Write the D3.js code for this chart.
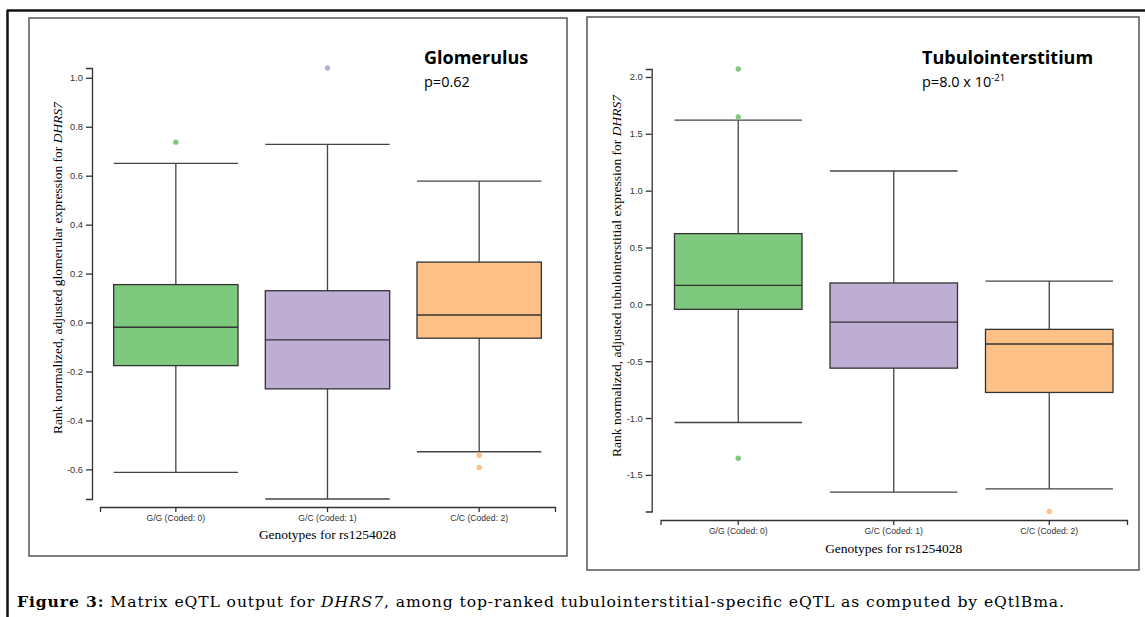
<!DOCTYPE html>
<html>
<head>
<meta charset="utf-8">
<script src="https://cdn.jsdelivr.net/npm/d3@7"></script>
<style>
  body { margin: 0; background: #fff; }
  svg { display: block; }
  .tick text { fill: #333; }
</style>
</head>
<body>
<svg id="fig" width="1145" height="617"></svg>
<script>
// genotype categories shared by both panels
var genotypes = ["G/G (Coded: 0)", "G/C (Coded: 1)", "C/C (Coded: 2)"];
var boxColors = ["#7fc97f", "#beaed4", "#fdc086"];

// glomerulus box stats (per genotype)
var glomLow     = [-0.612, -0.721, -0.528];
var glomQ1      = [-0.176, -0.271, -0.064];
var glomMedian  = [-0.019, -0.071,  0.031];
var glomQ3      = [ 0.155,  0.130,  0.247];
var glomHigh    = [ 0.650,  0.728,  0.578];
var glomOutliers = [[0.737], [1.040], [-0.542, -0.592]];
var glomTicks   = [-0.6, -0.4, -0.2, 0.0, 0.2, 0.4, 0.6, 0.8, 1.0];

// tubulointerstitium box stats
var tubLow      = [-1.039, -1.652, -1.623];
var tubQ1       = [-0.044, -0.561, -0.775];
var tubMedian   = [ 0.167, -0.156, -0.349];
var tubQ3       = [ 0.622,  0.188, -0.220];
var tubHigh     = [ 1.620,  1.173,  0.205];
var tubOutliers = [[2.070, 1.649, -1.353], [], [-1.822]];
var tubTicks    = [-1.5, -1.0, -0.5, 0.0, 0.5, 1.0, 1.5, 2.0];

var svg = d3.select("#fig");

// outer frame (only left and top edges show)
svg.append("line").attr("x1", 7.5).attr("y1", 10).attr("x2", 7.5).attr("y2", 617)
  .attr("stroke", "#111").attr("stroke-width", 2.5);
svg.append("line").attr("x1", 7).attr("y1", 10.5).attr("x2", 1145).attr("y2", 10.5)
  .attr("stroke", "#111").attr("stroke-width", 2.5);

function drawPanel(p) {
  svg.append("rect")
    .attr("x", p.box[0]).attr("y", p.box[1])
    .attr("width", p.box[2]).attr("height", p.box[3])
    .attr("fill", "none").attr("stroke", "#555").attr("stroke-width", 1.5);

  var stats = genotypes.map(function (g, i) {
    return { g: g, low: p.low[i], q1: p.q1[i], med: p.med[i], q3: p.q3[i],
             high: p.high[i], out: p.out[i], color: boxColors[i] };
  });

  var allVals = [];
  stats.forEach(function (s) { allVals.push(s.low, s.high); allVals = allVals.concat(s.out); });

  var x = d3.scaleBand().domain(genotypes).range(p.xRange).paddingInner(0.18).paddingOuter(0.09);
  var y = d3.scaleLinear().domain(d3.extent(allVals)).range(p.yRange);

  var xAxis = svg.append("g")
    .attr("transform", "translate(0," + p.xAxisY + ")")
    .call(d3.axisBottom(x).tickSize(5).tickSizeOuter(5).tickPadding(3));
  xAxis.selectAll("text").attr("font-family", "Liberation Sans, Arial, sans-serif").attr("font-size", 8.6);
  xAxis.selectAll("path, line").attr("stroke", "#333").attr("stroke-width", 1.3);

  var yAxis = svg.append("g")
    .attr("transform", "translate(" + p.yAxisX + ",0)")
    .call(d3.axisLeft(y).tickValues(p.ticks).tickSize(6).tickSizeOuter(6).tickPadding(3)
      .tickFormat(function (d) { return d.toFixed(1); }));
  yAxis.selectAll("text").attr("font-family", "Liberation Sans, Arial, sans-serif").attr("font-size", 9.3);
  yAxis.selectAll("path, line").attr("stroke", "#333").attr("stroke-width", 1.3);

  var boxes = svg.append("g").selectAll("g").data(stats).enter().append("g");

  // whiskers
  boxes.append("line")
    .attr("x1", function (d) { return x(d.g) + x.bandwidth() / 2; })
    .attr("x2", function (d) { return x(d.g) + x.bandwidth() / 2; })
    .attr("y1", function (d) { return y(d.high); })
    .attr("y2", function (d) { return y(d.low); })
    .attr("stroke", "#444").attr("stroke-width", 1.3);
  ["high", "low"].forEach(function (k) {
    boxes.append("line")
      .attr("x1", function (d) { return x(d.g); })
      .attr("x2", function (d) { return x(d.g) + x.bandwidth(); })
      .attr("y1", function (d) { return y(d[k]); })
      .attr("y2", function (d) { return y(d[k]); })
      .attr("stroke", "#444").attr("stroke-width", 1.3);
  });

  boxes.append("rect")
    .attr("x", function (d) { return x(d.g); })
    .attr("width", x.bandwidth())
    .attr("y", function (d) { return y(d.q3); })
    .attr("height", function (d) { return y(d.q1) - y(d.q3); })
    .attr("fill", function (d) { return d.color; })
    .attr("stroke", "#333").attr("stroke-width", 1.3);

  boxes.append("line")
    .attr("x1", function (d) { return x(d.g); })
    .attr("x2", function (d) { return x(d.g) + x.bandwidth(); })
    .attr("y1", function (d) { return y(d.med); })
    .attr("y2", function (d) { return y(d.med); })
    .attr("stroke", "#333").attr("stroke-width", 1.4);

  boxes.each(function (d) {
    d3.select(this).selectAll("circle").data(d.out).enter().append("circle")
      .attr("cx", x(d.g) + x.bandwidth() / 2)
      .attr("cy", function (v) { return y(v); })
      .attr("r", 2.7)
      .attr("fill", d.color);
  });

  // axis titles
  svg.append("text")
    .attr("x", x(genotypes[1]) + x.bandwidth() / 2).attr("y", p.xTitleY)
    .attr("text-anchor", "middle")
    .attr("font-family", "Liberation Serif, Times New Roman, serif").attr("font-size", 13.5)
    .text("Genotypes for rs1254028");

  var yt = svg.append("text")
    .attr("transform", "translate(" + p.yTitle[0] + "," + p.yTitle[1] + ") rotate(-90)")
    .attr("text-anchor", "middle")
    .attr("font-family", "Liberation Serif, Times New Roman, serif").attr("font-size", 13.5);
  yt.append("tspan").text(p.yLabel + " ");
  yt.append("tspan").attr("font-style", "italic").text("DHRS7");

  // panel title and p value
  svg.append("text")
    .attr("x", p.titlePos[0]).attr("y", p.titlePos[1])
    .attr("font-family", "Open Sans, sans-serif").attr("font-weight", "bold").attr("font-size", 18)
    .text(p.title);
  var pv = svg.append("text")
    .attr("x", p.titlePos[0]).attr("y", p.titlePos[1] + 23)
    .attr("font-family", "Open Sans, sans-serif").attr("font-size", 14.5);
  pv.append("tspan").text(p.pText);
  if (p.pExp) {
    pv.append("tspan").attr("font-size", 9.5).attr("dy", -6).text(p.pExp);
  }
}

drawPanel({
  box: [29, 18, 538, 538],
  low: glomLow, q1: glomQ1, med: glomMedian, q3: glomQ3, high: glomHigh, out: glomOutliers,
  ticks: glomTicks,
  xRange: [100, 555], yRange: [499, 68],
  xAxisY: 507, yAxisX: 92,
  xTitleY: 539,
  yTitle: [62, 268],
  yLabel: "Rank normalized, adjusted glomerular expression for",
  title: "Glomerulus", titlePos: [424, 64],
  pText: "p=0.62"
});

drawPanel({
  box: [587, 17, 552, 553],
  low: tubLow, q1: tubQ1, med: tubMedian, q3: tubQ3, high: tubHigh, out: tubOutliers,
  ticks: tubTicks,
  xRange: [660.5, 1127], yRange: [511.5, 69],
  xAxisY: 520, yAxisX: 651.7,
  xTitleY: 553,
  yTitle: [621, 276],
  yLabel: "Rank normalized, adjusted tubulointerstitial expression for",
  title: "Tubulointerstitium", titlePos: [922, 64],
  pText: "p=8.0 x 10", pExp: "-21"
});

// figure caption
var cap = svg.append("text")
  .attr("x", 17).attr("y", 607)
  .attr("font-family", "DejaVu Serif, Georgia, serif").attr("font-size", 15.6)
  .attr("textLength", 1047).attr("lengthAdjust", "spacing");
cap.append("tspan").attr("font-weight", "bold").text("Figure 3:");
cap.append("tspan").text(" Matrix eQTL output for ");
cap.append("tspan").attr("font-style", "italic").text("DHRS7");
cap.append("tspan").text(", among top-ranked tubulointerstitial-specific eQTL as computed by eQtlBma.");
</script>
</body>
</html>
